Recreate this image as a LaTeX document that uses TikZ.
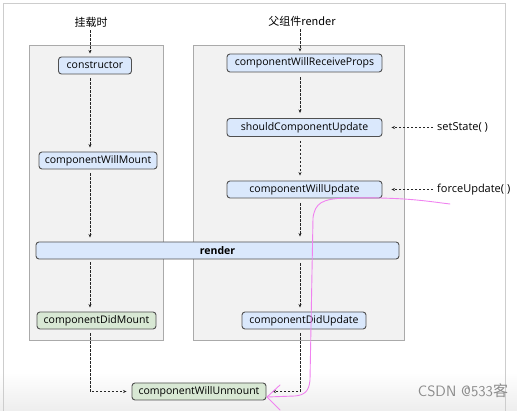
\documentclass[tikz,border=0pt]{standalone}
\usepackage{fontspec}
\setmainfont{Open Sans}
\newfontfamily\cjk{Noto Sans CJK SC}
\usetikzlibrary{arrows.meta,calc}
\definecolor{panelfill}{RGB}{242,242,242}
\definecolor{panelline}{RGB}{170,170,170}
\definecolor{bluefill}{RGB}{218,232,252}
\definecolor{greenfill}{RGB}{216,232,212}
\definecolor{boxline}{RGB}{80,80,80}
\definecolor{pinkline}{RGB}{240,130,240}
\definecolor{framegray}{RGB}{205,205,205}
\tikzset{
  panel/.style={draw=panelline, fill=panelfill, line width=0.8pt},
  stage/.style={draw=boxline, fill=bluefill, rounded corners=3pt, line width=0.9pt,
    minimum height=17pt, inner sep=0pt, font=\fontsize{10.5}{12}\selectfont},
  greenstage/.style={stage, fill=greenfill},
  lbl/.style={inner sep=0pt, font=\fontsize{11}{13}\selectfont},
  cjklbl/.style={inner sep=0pt, font=\cjk\fontsize{11}{13}\selectfont},
  flow/.style={dash pattern=on 2.5pt off 1.5pt, line width=0.9pt, black!85,
    -{Stealth[length=3.5pt,width=3pt]}},
  pinkpen/.style={draw=pinkline, line width=0.9pt, line cap=round, line join=round}
}
\begin{document}
\begin{tikzpicture}[x=1pt,y=-1pt]
\useasboundingbox (0,0) rectangle (517,411);
\shade[top color=white, bottom color=black!7] (0,372) rectangle (517,411);
\draw[framegray, line width=0.6pt] (3,3) rectangle (505,411);
% panels
\draw[panel] (29,45) rectangle (163,340);
\draw[panel] (193,45) rectangle (404,340);
% column coordinates
\coordinate (L) at (90,0);
\coordinate (R) at (300,0);
% labels
\node[cjklbl] (mount) at (91,22) {挂载时};
\node[cjklbl] (parent) at (302,21) {父组件render};
\node[lbl, anchor=west] (ss) at (437,127.5) {setState( )};
\node[lbl, anchor=west] (fu) at (437,189.5) {forceUpdate( )};
% stages
\node[stage, minimum width=73pt] (cons) at (95,65.5) {constructor};
\node[stage, minimum width=118pt] (cwm) at (98,160.5) {componentWillMount};
\node[stage, minimum width=363pt, font=\bfseries\fontsize{10.5}{12}\selectfont] (render) at (217.5,250.5) {render};
\node[greenstage, minimum width=119pt] (cdm) at (96.5,320.5) {componentDidMount};
\node[greenstage, minimum width=134pt] (cwun) at (199,391.5) {componentWillUnmount};
\node[stage, minimum width=155pt, minimum height=18pt] (cwrp) at (304.5,63) {componentWillReceiveProps};
\node[stage, minimum width=155pt, minimum height=18pt] (scu) at (304.5,127.5) {shouldComponentUpdate};
\node[stage, minimum width=155pt] (cwup) at (304.5,189.5) {componentWillUpdate};
\node[stage, minimum width=124pt] (cdu) at (304,320.5) {componentDidUpdate};
% left column flow
\draw[flow, shorten <=3pt, shorten >=3pt] (mount.south -| L) -- (cons.north -| L);
\draw[flow, shorten <=4pt, shorten >=4pt] (cons.south -| L) -- (cwm.north -| L);
\draw[flow, shorten <=4pt, shorten >=4pt] (cwm.south -| L) -- (render.north -| L);
\draw[flow, shorten <=3pt, shorten >=4pt] (render.south -| L) -- (cdm.north -| L);
\draw[flow, shorten <=4pt, shorten >=5pt] (cdm.south -| L) |- (cwun.west);
% right column flow
\draw[flow, shorten <=3pt, shorten >=2pt] (parent.south -| R) -- (cwrp.north -| R);
\draw[flow, shorten <=5pt, shorten >=5pt] (cwrp.south -| R) -- (scu.north -| R);
\draw[flow, shorten <=4pt, shorten >=5pt] (scu.south -| R) -- (cwup.north -| R);
\draw[flow, shorten <=5pt, shorten >=5pt] (cwup.south -| R) -- (render.north -| R);
\draw[flow, shorten <=4pt, shorten >=4pt] (render.south -| R) -- (cdu.north -| R);
\draw[flow, shorten <=4pt, shorten >=6pt] (cdu.south -| R) |- (cwun.east);
% external triggers
\draw[flow, shorten <=4pt, shorten >=9pt] (ss.west) -- (scu.east);
\draw[flow, shorten <=4pt, shorten >=9pt] (fu.west) -- (cwup.east);
% hand-drawn pink stroke
\draw[pinkpen] (450,204) .. controls (425,201) and (405,197) .. (345,198)
  .. controls (322,199) and (315,203) .. (313,218)
  -- (310,380) .. controls (309,392) and (304,395) .. (295,396) -- (267,397);
\draw[pinkpen] (280,385) -- (267,397) -- (280,410);
% watermark
\node[inner sep=0pt, text=black!45, font=\fontsize{15}{17}\selectfont\sffamily] (wm) at (463,391)
  {CSDN @533{\cjk 客}};
\end{tikzpicture}
\end{document}
